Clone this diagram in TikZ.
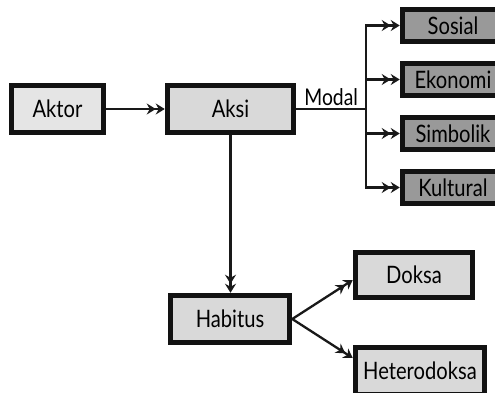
\documentclass[tikz,border=0pt]{standalone}
\usepackage{fontspec}
\setmainfont{Lato}[FakeStretch=0.84]
\usetikzlibrary{arrows.meta}
\begin{document}
\begin{tikzpicture}[x=1pt,y=-1pt,
  box/.style={draw=black!93,line width=5.5pt,rectangle,inner sep=0pt,font=\fontsize{24}{27}\selectfont},
  light/.style={box,fill=black!10},
  mid/.style={box,fill=black!15},
  dark/.style={box,fill=black!40,minimum width=101pt,minimum height=32pt},
  arr/.style={line width=2.3pt,draw=black!90,-{Stealth[length=9pt,width=11pt,inset=3pt]Stealth[length=9pt,width=11pt,inset=3pt]}},
  ln/.style={line width=2.3pt,draw=black!90}]
\path[use as bounding box,clip] (0,0) rectangle (495,392);
\fill[white] (0,0) rectangle (495,392);
\node[light,minimum width=92pt,minimum height=47pt] (aktor) at (57.5,109) {Aktor};
\node[mid,minimum width=126pt,minimum height=47pt] (aksi) at (230.5,109) {Aksi};
\node[mid,minimum width=119pt,minimum height=47pt] (habitus) at (230,319) {Habitus};
\node[mid,minimum width=117pt,minimum height=45pt] (doksa) at (414,275) {Doksa};
\node[mid,minimum width=129pt,minimum height=47pt] (hetero) at (420,371) {Heterodoksa};
\node[dark] (sosial) at (453,25.5) {Sosial};
\node[dark] (ekonomi) at (453,79.5) {Ekonomi};
\node[dark] (simbolik) at (453,133.5) {Simbolik};
\node[dark] (kultural) at (453,187.5) {Kultural};
\coordinate (j) at (366,109);
\draw[arr] (aktor) -- (aksi);
\draw[ln] (aksi.east) -- node[above=0pt,font=\fontsize{23}{26}\selectfont,inner sep=2pt] (modal) {Modal} (j);
\draw[arr] (j) |- (sosial.west);
\draw[arr] (j) |- (ekonomi.west);
\draw[arr] (j) |- (simbolik.west);
\draw[arr] (j) |- (kultural.west);
\draw[arr] (aksi.south) -- (aksi.south |- habitus.north);
\draw[arr] (habitus.east) -- ([yshift=-5pt]doksa.west);
\draw[arr] (habitus.east) -- ([yshift=13pt]hetero.west);
\end{tikzpicture}
\end{document}
